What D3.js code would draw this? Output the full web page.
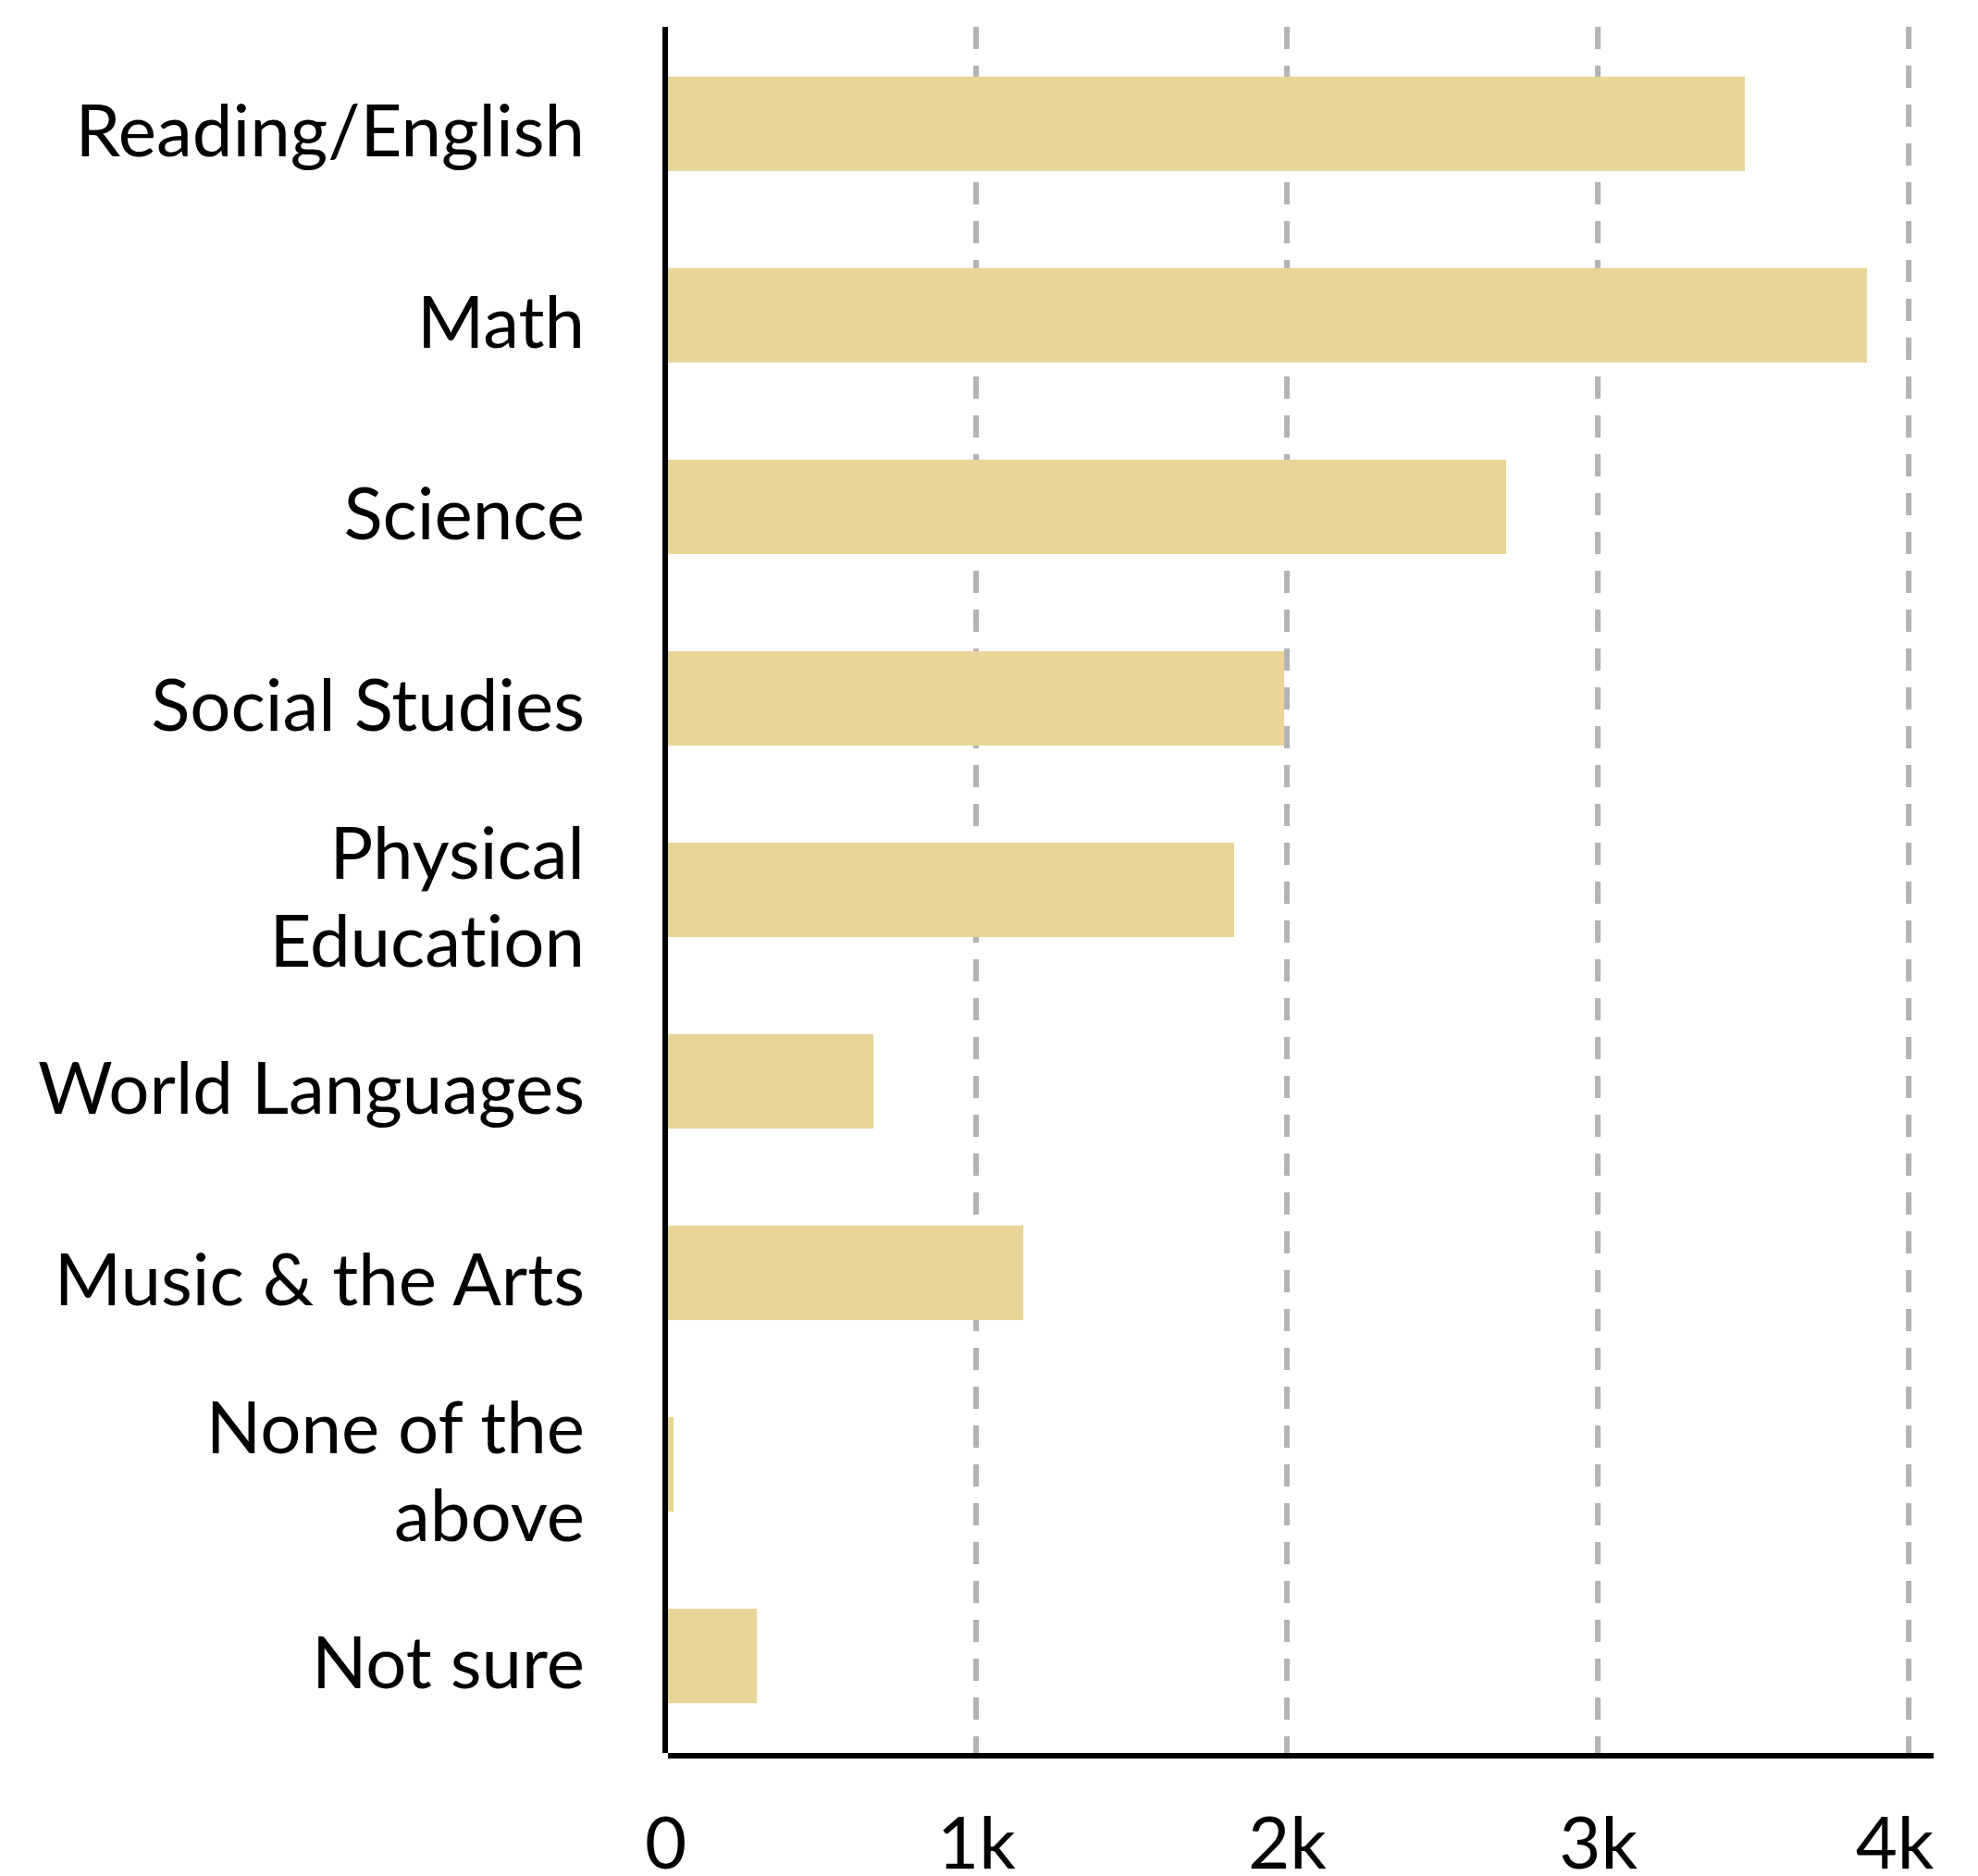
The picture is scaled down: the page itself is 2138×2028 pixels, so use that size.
<!DOCTYPE html>
<html>
<head>
<meta charset="utf-8">
<script src="https://cdn.jsdelivr.net/npm/d3@7"></script>
<style>
  html, body { margin: 0; padding: 0; background: #ffffff; }
  svg { display: block; }
  text {
    font-family: Lato, "Open Sans", sans-serif;
    fill: #000000;
    font-variant-ligatures: none;
    font-feature-settings: "liga" 0;
  }
</style>
</head>
<body>
<div id="chart"></div>
<script>
// Subject categories (top to bottom) and response counts
const categories = [
  'Reading/English',
  'Math',
  'Science',
  'Social Studies',
  'Physical Education',
  'World Languages',
  'Music & the Arts',
  'None of the above',
  'Not sure'
];
const counts = [3473, 3866, 2705, 1991, 1830, 670, 1152, 27, 295];

// Where long labels break onto a second line
const labelBreaks = {
  'Physical Education': ['Physical', 'Education'],
  'None of the above': ['None of the', 'above']
};

const xTicks = [0, 1000, 2000, 3000, 4000];
const xTickLabels = ['0', '1k', '2k', '3k', '4k'];

const data = categories.map((name, i) => ({ name, value: counts[i] }));

// Dimensions
const width = 2138;
const height = 2028;
const plot = { left: 719, right: 2090, top: 29, bottom: 1895 };
const fontSize = 78;
const barColor = '#e8d597';
const gridColor = '#b3b3b3';

const svg = d3.select('#chart')
  .append('svg')
  .attr('width', width)
  .attr('height', height)
  .attr('viewBox', `0 0 ${width} ${height}`);

// Scales
const xScale = d3.scaleLinear()
  .domain([0, 4080])
  .range([plot.left, plot.right]);

const yScale = d3.scaleBand()
  .domain(categories)
  .range([plot.top, plot.bottom])
  .paddingInner(0.507)
  .paddingOuter(0.26);

// Dashed vertical gridlines (behind the bars)
svg.append('g')
  .attr('class', 'grid')
  .selectAll('line')
  .data(xTicks.filter(d => d > 0))
  .join('line')
  .attr('x1', d => xScale(d))
  .attr('x2', d => xScale(d))
  .attr('y1', plot.top)
  .attr('y2', plot.bottom)
  .attr('stroke', gridColor)
  .attr('stroke-width', 6)
  .attr('stroke-dasharray', '24,18');

// Bars
svg.append('g')
  .attr('class', 'bars')
  .selectAll('rect')
  .data(data)
  .join('rect')
  .attr('x', xScale(0))
  .attr('y', d => yScale(d.name))
  .attr('width', d => xScale(d.value) - xScale(0))
  .attr('height', yScale.bandwidth())
  .attr('fill', barColor);

// Axis lines
svg.append('line')
  .attr('x1', xScale(0))
  .attr('x2', xScale(0))
  .attr('y1', plot.top)
  .attr('y2', plot.bottom)
  .attr('stroke', '#000')
  .attr('stroke-width', 6);

svg.append('line')
  .attr('x1', xScale(0) + 3)
  .attr('x2', plot.right)
  .attr('y1', plot.bottom + 3)
  .attr('y2', plot.bottom + 3)
  .attr('stroke', '#000')
  .attr('stroke-width', 6);

// X axis tick labels
const xAxis = d3.axisBottom(xScale)
  .tickValues(xTicks)
  .tickSize(0)
  .tickFormat((d, i) => xTickLabels[i]);

const xAxisGroup = svg.append('g')
  .attr('class', 'x-axis')
  .attr('transform', `translate(0,${plot.bottom})`)
  .call(xAxis);

xAxisGroup.select('.domain').remove();
xAxisGroup.selectAll('text')
  .attr('y', 125)
  .attr('dy', null)
  .attr('font-size', fontSize)
  .attr('fill', '#000');

// last label is kept inside the axis line
const lastTick = xTicks[xTicks.length - 1];
xAxisGroup.selectAll('.tick')
  .filter(d => d === lastTick)
  .select('text')
  .attr('text-anchor', 'end')
  .attr('x', plot.right - xScale(lastTick));

// Y axis category labels
const yAxis = d3.axisLeft(yScale).tickSize(0);

const yAxisGroup = svg.append('g')
  .attr('class', 'y-axis')
  .attr('transform', `translate(${plot.left},0)`)
  .call(yAxis);

yAxisGroup.select('.domain').remove();

const lineHeight = 95;
yAxisGroup.selectAll('text')
  .attr('font-size', fontSize)
  .attr('fill', '#000')
  .attr('x', -87)
  .attr('dy', null)
  .each(function(d) {
    const lines = labelBreaks[d] || [d];
    const el = d3.select(this).text(null);
    const firstY = 35 - (lines.length - 1) * lineHeight / 2;
    lines.forEach((line, i) => {
      el.append('tspan')
        .attr('x', -87)
        .attr('y', firstY + i * lineHeight)
        .text(line);
    });
  });
</script>
</body>
</html>
